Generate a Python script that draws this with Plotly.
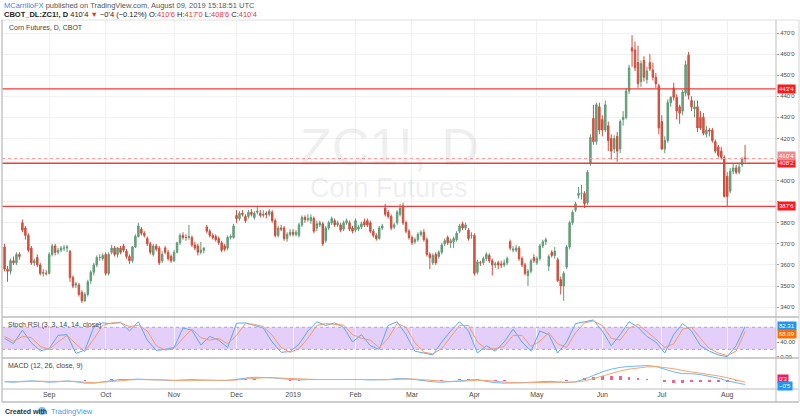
import pandas as pd
import plotly.graph_objects as go

# ---------------- data ----------------
holidays = ["2018-09-03", "2018-11-22", "2018-12-05", "2018-12-25", "2019-01-01",
            "2019-01-21", "2019-02-18", "2019-04-19", "2019-05-27", "2019-07-04"]

opens = [368.5,358,357,362,361,365,380,377.5,374,368,361,363.5,360,356,356,356,365,369,366,367,
         368,368,366.5,354,350.5,350.5,347,343,346,352.5,356.5,360,363.5,363,365,356,366,368,365,368,
         369,366.5,364,362,368.5,373.5,377,375,372.5,370,365,369,368,362,368,366,364,362,366,370.5,
         374,373,373,373,369.5,369,366,367,378,376,374,373.5,372.5,370.5,369,368,373,373,383.5,382,
         384.5,383,383,385,382.5,385,384.5,383.5,384.5,384,385,381,374,377.5,377.5,372.5,374.5,375.5,374.5,374,
         379,382.5,381.5,381,382,377.5,379,379.5,371.5,377.5,380,381,379,379,377,380,380,377.5,376.5,377,
         378,380.5,381,380,376,374,372.5,377.5,387,385,383,378,380,384,388,380,376,373,371,372,
         374.5,375.5,372,365,361,365,364,366,370,373,370.5,371,372,376,379.5,377.5,376.5,374,374,356.5,
         361,361,363,364.5,362,360,361,360.5,360,361,371,367,367,368,363,360,355,357,363.5,361,
         363,369,371,359.5,366,364.5,362.5,353,350,359,368.5,380,386,393,394,394,389.5,408,429.5,418.5,
         435,429,424,426,420,415,421,415,429,430,442.5,463,462,456,447,457,448,456,452.5,449,
         445,428,415,419,437,444,439.5,435,433,441.5,459.5,438,434,435,430,430,422,424,424,418.5,
         416,414,411,402,395,404.5,406,404,407.5,410.75]
highs = [370,359.5,363,364,366,366,381.5,378.5,375,369,363,365,361,358,357.5,366,370,370,368,369,
         369.5,369.5,367,355,352,351.5,348,347,353,357.5,361,364.5,365,365.5,366,366,369.5,369,368.5,369,
         370,367.5,365,369,374.5,380,378,376,373.5,371,370,370,369,366.5,369,367,365,367,371,375,
         375.5,374.5,379,374,371,370,371,368.5,379,377,375,374.5,373.5,371.5,370,374,374.5,379.5,386,385.5,
         386,384,386,386.5,385.5,387.5,386,386,385.5,386.5,386,382,378.5,379,378.5,375.5,377,377,376.5,380,
         383.5,383.5,384,384,383,381,381,380.5,378.5,381,383,382,381,380,381,382,381,378.5,382,379,
         380.5,382,382,381,377,375,378.5,379.5,389,386,384,380,386,389,389.5,381,377,374,373,375.5,
         376.5,377,373,366,365.5,366,367,370.5,372.5,374,372.5,373.5,376,379.5,380.5,380,377.5,375.5,375,362.5,
         362,364,366,365.5,363,361.5,362,362,362.5,364,372,369,369.5,369,364,361,358,363,365,364,
         370,372,373,365,367,368.5,363.5,354.5,357,369.5,381,386,390,397,398,395,405,422,436,437,
         437,431,438,428,422,421.5,423,429,433,444,455,469,466,464,457,459,454,460,456,451,
         446,431,421,438.5,440,446.5,441,436,443,457,461,440,438,438,433,432,426,425,425,419.5,
         417,416,412,404,406,408,407.5,408,411,417]
lows = [357,352,355.5,360,360,362.5,375.5,372,366,360,359.5,359,355,354.5,355,355.5,364,364.5,365,366,
        366.5,366,352,349,349,345,342,342.5,345,351,355,359,362,362,355,355,365,364,363.5,365,
        366,363,360.5,361,368,373,374,373,369,365,364,366.5,360,361,365,362,361,361.5,365.5,369.5,
        372,371.5,372,368.5,367,364.5,365,365.5,375,373,372,371,369.5,366,366.5,367,372,372.5,380,381,
        383,380,382,383,381.5,384,382.5,382.5,382,383,380,373,373,376,371.5,371,373.5,373.5,373.5,373,
        378,380,380.5,379.5,375,376,378,369,370.5,376.5,379,378,378,375.5,376,379,376,375,375.5,376,
        377,378,378,375,373,371.5,372,376.5,383,382,376.5,377,379,383,379,375,372,369.5,370,371,
        373.5,371,364,358,360,360,363,365,369,369.5,368,368,371,375,376.5,376.5,371.5,372.5,355,355.5,
        359.5,360,362,361,355,358.5,358,358.5,359,360,367,366,366,362,359,355,350,356,361,360,
        362,368,369.5,357,363.5,363,352,346,343,358,367.5,379,385,391.5,391,387,388.5,407,417,417,
        422,421,423,414,410,413,409,413,426,429,441,454,452,444,444.5,447,446,452,447.5,444,
        422,414.5,413,418,435,438,429,427,431,440,438.5,433,430,423,424,421.5,420.5,421,418,413,
        411,410,392,388,394,403,403,403,406.5,408.75]
closes = [358,357,362,361,365,364,376.5,374,367,361,362,360,356,356.5,356,365,369,366,367,368,
          368,368.5,354,350,351,346,343,346,352,356.5,360,363.5,363.5,364.5,356,365,368,365,368,366,
          367,364,362,368.5,373.5,378.5,375,374,370,366,369,367.5,361,365,366,363,362,366,370.5,374,
          373,373,373.5,369.5,368,366,367,368,376,374,373,372,370.5,367,367.5,373,373.5,378.5,382,384.5,
          384,381,385,384,384.5,385.5,383.5,384,384,385.5,381,374,377.5,377,372.5,374.5,375.5,374.5,375.5,379,
          382.5,381.5,382,382.5,376,379.5,380,370,377.5,380,382,379,380,376.5,380,381,377,376,381,378,
          379.5,379,379,376,374,372.5,377.5,378.5,384,383,377.5,379,385,387,380,376,373,370.5,372,374.5,
          375.5,372,365,363.5,364.5,361,366,369.5,371.5,370.5,371.5,372.5,375,378.5,377.5,379,372.5,374,356,361.5,
          361,363,365,362,360,360.5,360,360,361,363,368,367.5,368,363,360,356,357,362,362,363,
          369,371,372,364,364.5,366.5,352.5,350,356,368.5,380,385,389,394,394,389,404,420.5,418.5,436,
          424,424,436,419,414,420,414,428,430,442.5,453.5,461.5,453.5,446,455.5,449,452,453,449,446,
          425,415,419,437,439.5,439.5,433,432,442,455,440.5,435,435,425,425,422.5,424,423.5,419,414,
          412,411,392.5,392.5,404.5,406,404,406.5,410.6,410.5]

# levels drawn by the author
levels = [443.5, 408.25, 387.75]
level_text = ["443'4", "408'2", "387'6"]
last_price = 410.5
last_text = "410'4"

price_ticks = [340, 350, 360, 370, 380, 390, 400, 410, 420, 430, 440, 450, 460, 470]
hidden_ticks = [390, 410]  # covered by the price labels in the reference

# Stoch RSI (sampled every 3rd bar)
stoch_k = [50,36,72,38,16,22,58,60,9,18,80,92,90,94,70,95,45,17,20,25,78,72,32,55,45,25,91,92,85,78,40,12,14,34,
           70,95,85,92,80,40,60,30,20,85,95,60,15,10,5,40,70,95,70,10,30,15,40,75,40,15,70,60,10,40,
           90,95,100,70,30,60,95,80,55,40,10,60,90,70,30,15,5,0,30,82.31]
stoch_d = [55,42,55,52,28,20,40,58,35,14,48,85,92,92,82,85,70,30,18,22,50,75,52,45,50,35,58,90,88,82,58,25,12,22,
           50,85,90,88,86,60,50,45,25,50,90,80,38,12,8,22,55,85,85,40,20,22,28,58,58,28,42,65,35,25,
           65,92,97,85,50,45,78,88,68,48,25,35,75,80,50,22,10,3,15,68.09]

# MACD (sampled every 3rd bar)
macd = [-2,-2.5,-1.5,-1,-1.5,-2.5,-2,-1,-2,-3.5,-3.5,-2,-0.5,0.5,0.5,1,0.5,0,-0.5,-0.5,0,0.5,0,-0.5,-0.5,-0.5,1,2,3,3,2.5,1.5,0.5,0,
        0.5,0.5,0.5,1,1,0.5,0.5,0,0,0.5,1.5,1.5,0.5,-1,-2,-2.5,-2,-1,0,0.5,-1.5,-3,-3.5,-3.5,-3,-2.5,-2,-1.5,-2,-3,
        -2,1,5,9,12,14,15,15.5,16,15,12,9,7,7,6,4,2,-1,-3,-5]
signal = [-1.5,-2,-2,-1.5,-1.5,-2,-2,-1.5,-1.5,-2.5,-3,-2.5,-1.5,-0.5,0,0.5,0.5,0.5,0,-0.5,-0.3,0,0,-0.3,-0.5,-0.5,0,1,2,2.5,2.5,2,1.3,0.8,
          0.6,0.5,0.5,0.7,0.8,0.7,0.6,0.4,0.2,0.3,0.8,1.2,1,0.2,-0.7,-1.5,-1.8,-1.6,-1,-0.3,-0.6,-1.6,-2.5,-3,-3.1,-2.9,-2.5,-2,-2,-2.4,
          -2.3,-1,1.5,4.5,7.5,10,12,13.5,14.5,15,14,12.5,10.5,9,8,6.5,4.5,2.5,0,-2.5]
hist = [-0.5,-0.5,0.5,0.5,0,-0.5,0,0.5,-0.5,-1,-0.5,0.5,1,1,0.5,0.5,0,-0.5,-0.5,0,0.3,0.5,0,-0.2,0,0,1,1,1,0.5,0,-0.5,-0.8,-0.8,
        -0.1,0,0,0.3,0.2,-0.2,-0.1,-0.4,-0.2,0.2,0.7,0.3,-0.5,-1.2,-1.3,-1,-0.2,0.6,1,0.8,-0.9,-1.4,-1,-0.5,0.1,0.4,0.5,0.5,0,-0.6,
        0.3,2,3.5,4.5,4.5,4,3,2,1.5,0,-2,-3.5,-3.5,-2,-2,-2.5,-2.5,-2,-1.5,0.4]

# ---------------- dates / positions ----------------
days = pd.bdate_range("2018-08-01", "2019-08-09")
days = days[~days.isin(pd.to_datetime(holidays))][-len(closes):]
idx = list(range(len(closes)))
sub = idx[::3]

month_idx, month_txt = [], []
for i, d in enumerate(days):
    if i > 0 and d.month != days[i - 1].month:
        month_idx.append(i)
        month_txt.append("2019" if d.month == 1 else d.strftime("%b"))

# ---------------- geometry helpers ----------------
W, H = 800, 419
def px(x): return x / W
def py(y): return 1 - y / H
L, R = 2, 776
FONT = "Liberation Sans, Arial, sans-serif"
GRID = "#f1f1f1"
BORDER = "#c9c9c9"

fig = go.Figure()
fig.add_trace(go.Candlestick(
    x=idx, open=opens, high=highs, low=lows, close=closes,
    increasing=dict(fillcolor="#6ba583", line=dict(color="#5e9b76", width=1)),
    decreasing=dict(fillcolor="#d75442", line=dict(color="#c9503f", width=1)),
    whiskerwidth=0, showlegend=False, hoverinfo="skip", xaxis="x", yaxis="y"))

fig.add_trace(go.Scatter(x=sub, y=stoch_k, mode="lines", line=dict(color="#5aaaf5", width=1),
                         xaxis="x2", yaxis="y2", showlegend=False, hoverinfo="skip"))
fig.add_trace(go.Scatter(x=sub, y=stoch_d, mode="lines", line=dict(color="#f59a6a", width=1),
                         xaxis="x2", yaxis="y2", showlegend=False, hoverinfo="skip"))

fig.add_trace(go.Bar(x=sub, y=hist, marker=dict(color="#f06292", line=dict(width=0)), width=0.9,
                     xaxis="x3", yaxis="y3", showlegend=False, hoverinfo="skip"))
fig.add_trace(go.Scatter(x=sub, y=macd, mode="lines", line=dict(color="#6fb7f7", width=1),
                         xaxis="x3", yaxis="y3", showlegend=False, hoverinfo="skip"))
fig.add_trace(go.Scatter(x=sub, y=signal, mode="lines", line=dict(color="#f7a56f", width=1),
                         xaxis="x3", yaxis="y3", showlegend=False, hoverinfo="skip"))

xr = [-0.86, 259.4]
xcommon = dict(range=xr, autorange=False, domain=[px(L), px(R)], tickvals=month_idx, ticktext=month_txt,
               showgrid=True, gridcolor=GRID, zeroline=False, showline=False, fixedrange=True,
               automargin=False)
ycommon = dict(side="right", automargin=False, autorange=False, zeroline=False, fixedrange=True,
               ticklabeloverflow="allow")
fig.update_layout(
    template="none",
    width=W, height=H, margin=dict(l=0, r=0, t=0, b=0, pad=0, autoexpand=False),
    paper_bgcolor="white", plot_bgcolor="white", font=dict(family=FONT, size=7, color="#4a4a4a"),
    showlegend=False, bargap=0,
    xaxis=dict(**xcommon, anchor="y", showticklabels=False, rangeslider=dict(visible=False)),
    xaxis2=dict(**xcommon, anchor="y2", showticklabels=False),
    xaxis3=dict(**xcommon, anchor="y3", showticklabels=True, ticks="",
                tickfont=dict(size=7, color="#4a4a4a")),
    yaxis=dict(**ycommon, domain=[py(317), py(20)], range=[335.3, 476.2], anchor="x",
               tickvals=price_ticks,
               ticktext=["" if v in hidden_ticks else f"{v}'0" for v in price_ticks],
               ticks="outside", ticklen=2, tickcolor="#9a9a9a", showgrid=True, gridcolor=GRID,
               tickfont=dict(size=6, color="#4a4a4a")),
    yaxis2=dict(**ycommon, domain=[py(358), py(317)], range=[-3.5, 108], anchor="x2",
                tickvals=[0, 40], ticktext=["0.00", "40.00"], ticks="outside", ticklen=2,
                tickcolor="#9a9a9a", showgrid=False, tickfont=dict(size=6, color="#4a4a4a")),
    yaxis3=dict(**ycommon, domain=[py(389), py(358)], range=[-10, 24.4], anchor="x3",
                showticklabels=False, showgrid=False),
)

shapes = []
shapes.append(dict(type="rect", xref="paper", yref="y2", x0=px(L), x1=px(R), y0=20, y1=80,
                   fillcolor="#e3cffa", line=dict(width=0), layer="below"))
for lv in (20, 80):
    shapes.append(dict(type="line", xref="paper", yref="y2", x0=px(L), x1=px(R), y0=lv, y1=lv,
                       line=dict(color="#b99be0", width=1, dash="dot")))
for lv in levels:
    shapes.append(dict(type="line", xref="paper", yref="y", x0=px(L), x1=px(R), y0=lv, y1=lv,
                       line=dict(color="#f23b3b", width=1.3)))
shapes.append(dict(type="line", xref="paper", yref="y", x0=px(L), x1=px(R), y0=last_price, y1=last_price,
                   line=dict(color="#f3a0a0", width=1, dash="dot")))

def hline(y, color=BORDER, w=1, x0=L, x1=799):
    shapes.append(dict(type="line", xref="paper", yref="paper", x0=px(x0), x1=px(x1), y0=py(y), y1=py(y),
                       line=dict(color=color, width=w)))
def vline(x, y0, y1, color=BORDER, w=1):
    shapes.append(dict(type="line", xref="paper", yref="paper", x0=px(x), x1=px(x), y0=py(y0), y1=py(y1),
                       line=dict(color=color, width=w)))
hline(20, "#e0e0e0")
hline(317, "#bdbdbd", 1.5)
hline(358, "#bdbdbd", 1.5)
hline(389, "#bdbdbd", 1)
hline(402, "#bdbdbd", 1.5)
vline(L, 20, 402, "#c4c4c4", 1.5)
vline(R, 20, 402, "#bdbdbd", 1)
vline(799, 20, 402, "#d4d4d4", 1)

anns = []
def note(x, y, text, size=7, color="#333", xanchor="left", **kw):
    anns.append(dict(xref="paper", yref="paper", x=px(x), y=py(y), text=text, showarrow=False,
                     xanchor=xanchor, yanchor="middle", font=dict(size=size, color=color, family=FONT), **kw))

note(2, 5.5, "<span style='color:#2a8fe6'>MCarrilloFX</span> published on TradingView.com, August 09, 2019 15:18:51 UTC",
     size=7.5, color="#555")
note(2, 14, "<b>CBOT_DL:ZC1!, D</b> 410'4 <span style='color:#e53935'>▼</span> −0'4 (−0.12%) "
     "O:<span style='color:#e53935'>410'6</span> H:<span style='color:#e53935'>417'0</span> "
     "L:<span style='color:#e53935'>408'6</span> C:<span style='color:#e53935'>410'4</span>",
     size=7.5, color="#222")
note(7, 27, "Corn Futures, D, CBOT", size=7, color="#444")
note(6, 325, "Stoch RSI (3, 3, 14, 14, close)", size=7, color="#444")
note(6, 366, "MACD (12, 26, close, 9)", size=7, color="#444")
note(3, 411, "<b>Created with</b>", size=7, color="#333")
note(49, 411, "TradingView", size=7.5, color="#3ba0e8")
note(389, 147, "ZC1!, D", size=52, color="rgba(120,123,134,0.12)", xanchor="center")
note(389, 188, "Corn Futures", size=27, color="rgba(120,123,134,0.12)", xanchor="center")

shapes.append(dict(type="circle", xref="paper", yref="paper", x0=px(38), x1=px(46), y0=py(415), y1=py(407),
                   fillcolor="#7cc1ef", line=dict(width=0)))

def side_label(y, text, bg, yref="y"):
    anns.append(dict(xref="paper", yref=yref, x=px(R + 0.5), y=y, text=text, showarrow=False,
                     xanchor="left", yanchor="middle", bgcolor=bg, borderpad=1,
                     font=dict(size=6, color="white", family=FONT)))

for lv, t in zip(levels, level_text):
    side_label(lv, t, "#ff1a1a")
side_label(last_price + 1.3, last_text, "#f08c8c")
side_label(py(325.5), f"{stoch_k[-1]:.2f}", "#2196f3", "paper")
side_label(py(334), f"{stoch_d[-1]:.2f}", "#ff6d00", "paper")
side_label(py(379), "0'3", "#e91e63", "paper")
side_label(py(386), "−0'5", "#2196f3", "paper")

fig.update_layout(shapes=shapes, annotations=anns)
# the page's default body margin would shift the 800x419 figure; remove it
fig.write_html("out.html", config={"displayModeBar": False, "staticPlot": True},
               post_script="document.body.style.margin='0';document.body.style.overflow='hidden';")
